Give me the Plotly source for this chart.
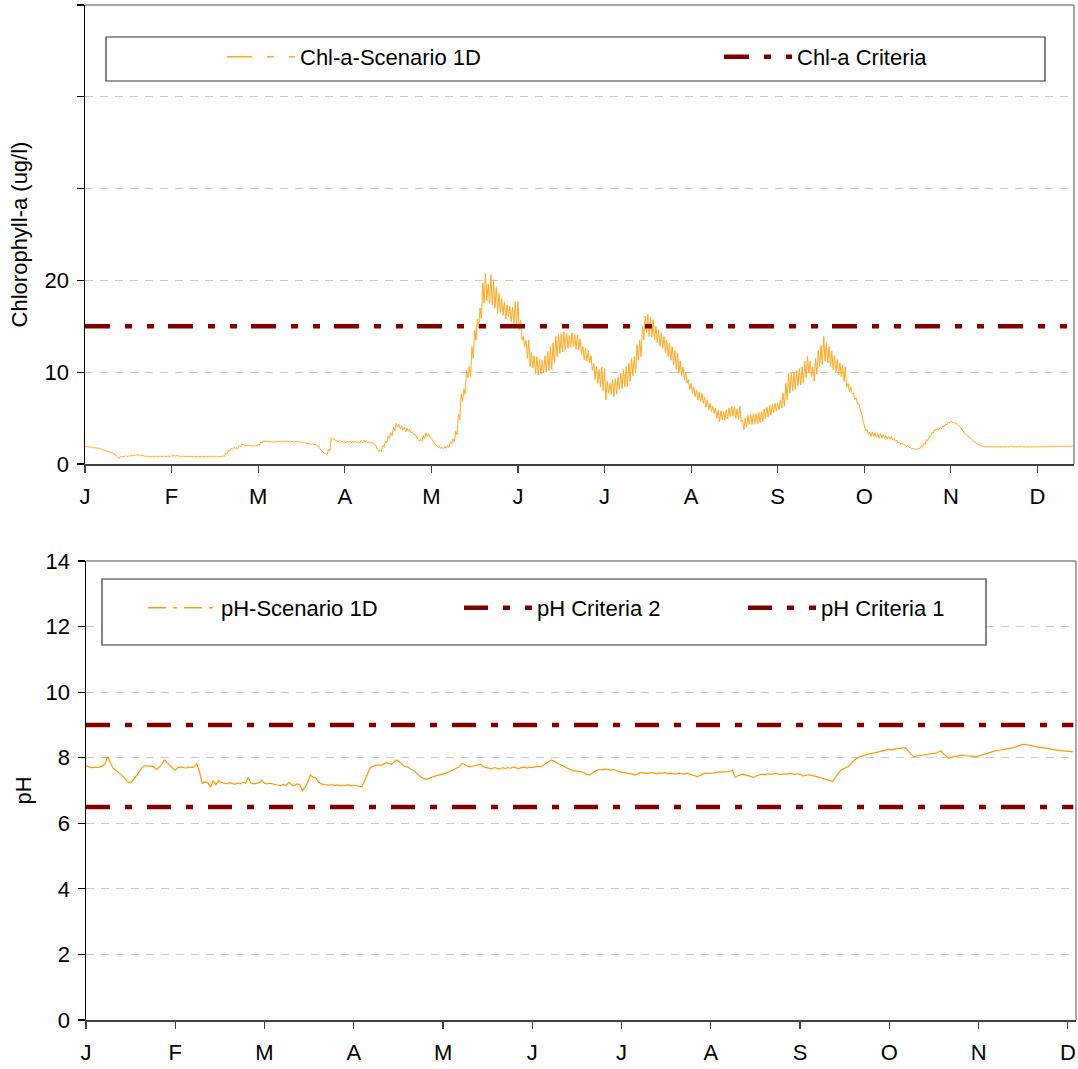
import plotly.graph_objects as go

W, H = 1078, 1069

# ---------------- data ----------------
months = ["J", "F", "M", "A", "M", "J", "J", "A", "S", "O", "N", "D"]
top_tick_days = [0, 32, 64, 96, 128, 160, 192, 224, 256, 288, 320, 352]
bottom_tick_days = [0, 33, 66, 99, 132, 165, 198, 231, 264, 297, 330, 363]

# Chlorophyll-a, daily high / low of the sub-daily oscillation (ug/l), day 0 = 1 Jan
chl_high = [
    1.95, 1.90, 1.88, 1.85, 1.80, 1.72, 1.65, 1.55, 1.45, 1.35,
    1.25, 1.10, 0.75, 0.85, 0.85, 0.90, 0.90, 0.95, 1.00, 1.05,
    1.00, 0.95, 0.90, 0.88, 0.86, 0.86, 0.86, 0.86, 0.86, 0.86,
    0.86, 0.88, 0.92, 0.95, 0.95, 0.90, 0.86, 0.86, 0.86, 0.86,
    0.86, 0.86, 0.86, 0.86, 0.86, 0.86, 0.86, 0.86, 0.86, 0.86,
    0.86, 0.90, 1.20, 1.50, 1.70, 1.80, 1.75, 2.00, 2.20, 2.05,
    2.10, 2.05, 2.00, 2.05, 2.15, 2.40, 2.55, 2.50, 2.50, 2.45,
    2.50, 2.50, 2.45, 2.50, 2.55, 2.50, 2.50, 2.45, 2.50, 2.45,
    2.40, 2.35, 2.30, 2.25, 2.20, 2.15, 2.00, 1.60, 1.25, 1.15,
    1.60, 2.85, 2.75, 2.60, 2.55, 2.50, 2.45, 2.50, 2.45, 2.50,
    2.50, 2.45, 2.55, 2.60, 2.50, 2.45, 2.40, 2.20, 1.60, 1.50,
    2.00, 2.50, 3.00, 3.40, 4.00, 4.45, 4.30, 4.15, 4.00, 3.90,
    3.80, 3.50, 3.20, 2.75, 2.70, 3.10, 3.40, 3.30, 2.80, 2.30,
    2.00, 1.90, 1.80, 1.90, 2.00, 2.40, 2.70, 3.60, 5.40, 7.60,
    8.20, 10.2, 10.6, 12.8, 14.6, 15.8, 17.0, 19.7, 20.8, 19.6,
    20.6, 20.0, 19.3, 18.6, 18.0, 17.6, 17.3, 17.2, 17.1, 17.7,
    17.7, 15.7, 13.9, 13.5, 13.5, 12.2, 11.8, 11.7, 11.4, 11.3,
    11.8, 12.3, 12.8, 13.2, 13.9, 14.1, 14.2, 14.4, 14.2, 14.0,
    14.3, 14.1, 14.1, 13.6, 12.8, 12.6, 12.4, 11.8, 11.0, 10.6,
    10.3, 10.6, 10.4, 9.0, 8.8, 9.2, 9.3, 9.5, 9.9, 10.3,
    10.6, 11.0, 11.5, 11.7, 13.0, 13.5, 15.0, 16.1, 16.3, 16.0,
    15.7, 15.0, 14.6, 14.3, 13.9, 13.5, 13.2, 12.8, 12.4, 12.1,
    11.2, 10.6, 10.0, 9.2, 8.8, 8.4, 8.0, 7.8, 7.7, 7.3,
    7.0, 6.6, 6.3, 6.1, 5.9, 5.8, 5.7, 5.9, 6.1, 6.3,
    6.2, 6.0, 6.3, 4.8, 5.0, 5.3, 5.4, 5.5, 5.5, 5.6,
    5.7, 6.0, 6.2, 6.4, 6.5, 6.6, 6.6, 7.0, 7.7, 8.8,
    9.9, 9.9, 9.9, 10.2, 10.4, 10.6, 11.2, 11.7, 11.2, 10.6,
    11.5, 12.4, 12.9, 13.9, 13.2, 12.8, 12.3, 11.8, 11.4, 11.0,
    10.8, 10.6, 8.8, 8.4, 7.7, 7.2, 6.6, 5.5, 4.2, 3.8,
    3.5, 3.5, 3.4, 3.3, 3.3, 3.2, 3.1, 3.0, 3.0, 2.8,
    2.6, 2.4, 2.3, 2.1, 2.0, 1.8, 1.7, 1.65, 1.75, 1.95,
    2.25, 2.65, 3.05, 3.45, 3.75, 3.85, 3.95, 4.15, 4.35, 4.55,
    4.65, 4.55, 4.45, 4.15, 3.75, 3.35, 3.05, 2.85, 2.55, 2.35,
    2.15, 2.05, 1.95, 1.92, 1.90, 1.90, 1.90, 1.92, 1.90, 1.90,
    1.90, 1.92, 1.95, 1.92, 1.90, 1.92, 1.95, 1.92, 1.90, 1.90,
    1.90, 1.92, 1.90, 1.90, 1.92, 1.94, 1.95, 1.96, 1.96, 1.95,
    1.96, 1.97, 1.96, 1.97, 1.97, 1.98,
]
chl_low = [
    1.85, 1.82, 1.80, 1.75, 1.70, 1.62, 1.55, 1.45, 1.35, 1.25,
    1.15, 0.95, 0.60, 0.75, 0.78, 0.80, 0.82, 0.85, 0.90, 0.95,
    0.92, 0.88, 0.82, 0.80, 0.78, 0.78, 0.78, 0.78, 0.78, 0.78,
    0.78, 0.80, 0.85, 0.87, 0.85, 0.80, 0.78, 0.78, 0.78, 0.78,
    0.78, 0.78, 0.78, 0.78, 0.78, 0.78, 0.78, 0.78, 0.78, 0.78,
    0.78, 0.82, 1.10, 1.40, 1.60, 1.70, 1.65, 1.85, 2.05, 1.95,
    2.00, 1.95, 1.90, 1.95, 2.05, 2.30, 2.45, 2.40, 2.40, 2.35,
    2.40, 2.40, 2.35, 2.40, 2.45, 2.40, 2.40, 2.35, 2.40, 2.35,
    2.30, 2.25, 2.20, 2.15, 2.10, 2.05, 1.85, 1.45, 1.10, 1.05,
    1.40, 2.70, 2.55, 2.40, 2.35, 2.30, 2.30, 2.35, 2.30, 2.30,
    2.30, 2.25, 2.35, 2.40, 2.30, 2.25, 2.20, 2.00, 1.40, 1.35,
    1.80, 2.30, 2.80, 3.10, 3.60, 4.00, 3.80, 3.70, 3.50, 3.55,
    3.40, 3.20, 3.00, 2.50, 2.50, 2.80, 3.00, 2.90, 2.50, 2.10,
    1.80, 1.70, 1.65, 1.70, 1.80, 2.20, 2.40, 3.20, 4.80, 6.80,
    7.6, 9.4, 9.5, 11.5, 13.5, 14.8, 15.8, 17.5, 17.8, 17.5,
    17.3, 17.0, 16.4, 16.5, 16.2, 15.8, 16.0, 15.5, 15.3, 14.8,
    14.6, 13.5, 12.8, 11.5, 10.6, 10.5, 9.8, 9.7, 9.8, 9.9,
    10.0, 10.2, 10.3, 11.0, 11.7, 12.0, 12.2, 12.4, 12.6, 12.7,
    12.8, 12.5, 12.4, 12.0, 11.3, 11.2, 11.0, 10.2, 9.2, 8.8,
    8.4, 8.0, 7.0, 7.7, 7.6, 7.3, 7.6, 8.1, 8.2, 8.4,
    8.4, 9.0, 9.6, 9.9, 11.3, 11.7, 13.5, 14.3, 13.9, 13.8,
    13.5, 13.2, 12.8, 12.6, 12.1, 11.7, 11.3, 10.8, 10.3, 9.9,
    9.6, 9.2, 8.8, 8.1, 7.7, 7.3, 7.0, 6.8, 6.6, 6.2,
    5.9, 5.7, 5.5, 5.0, 4.6, 4.8, 4.8, 4.9, 5.1, 5.2,
    5.0, 4.8, 4.6, 3.7, 4.0, 4.3, 4.3, 4.4, 4.4, 4.5,
    4.6, 4.9, 5.1, 5.3, 5.6, 5.8, 5.9, 6.1, 6.3, 7.0,
    7.7, 8.0, 8.1, 8.5, 8.6, 8.8, 9.4, 9.9, 9.5, 9.0,
    9.8, 10.6, 10.8, 11.2, 11.0, 10.6, 10.3, 10.0, 9.7, 9.5,
    9.0, 8.4, 7.9, 7.7, 7.0, 6.5, 5.9, 4.8, 3.6, 3.2,
    3.0, 3.0, 2.9, 2.8, 2.8, 2.8, 2.7, 2.7, 2.6, 2.5,
    2.3, 2.1, 2.1, 1.9, 1.8, 1.7, 1.6, 1.55, 1.65, 1.85,
    2.15, 2.55, 2.95, 3.35, 3.65, 3.75, 3.85, 4.05, 4.25, 4.45,
    4.55, 4.45, 4.35, 4.05, 3.65, 3.25, 2.95, 2.75, 2.45, 2.25,
    2.05, 1.95, 1.85, 1.84, 1.83, 1.83, 1.83, 1.84, 1.83, 1.83,
    1.83, 1.84, 1.86, 1.84, 1.83, 1.84, 1.86, 1.84, 1.83, 1.83,
    1.83, 1.84, 1.83, 1.83, 1.84, 1.86, 1.87, 1.88, 1.88, 1.87,
    1.88, 1.89, 1.88, 1.89, 1.89, 1.90,
]
chl_criteria = 15.0

# pH, daily values, day 0 = 1 Jan
ph_values = [
    7.77, 7.72, 7.70, 7.70, 7.69, 7.71, 7.75, 7.80, 8.03, 7.85,
    7.68, 7.62, 7.55, 7.48, 7.40, 7.30, 7.24, 7.27, 7.38, 7.47,
    7.60, 7.72, 7.76, 7.74, 7.75, 7.72, 7.64, 7.70, 7.80, 7.93,
    7.85, 7.75, 7.68, 7.62, 7.70, 7.72, 7.70, 7.68, 7.72, 7.70,
    7.72, 7.82, 7.55, 7.22, 7.26, 7.24, 7.10, 7.30, 7.18, 7.30,
    7.25, 7.22, 7.20, 7.24, 7.21, 7.19, 7.23, 7.20, 7.25, 7.22,
    7.40, 7.22, 7.20, 7.22, 7.24, 7.32, 7.22, 7.20, 7.22, 7.20,
    7.17, 7.16, 7.15, 7.18, 7.16, 7.25, 7.18, 7.15, 7.20, 7.18,
    6.99, 7.10, 7.25, 7.47, 7.40, 7.38, 7.25, 7.20, 7.18, 7.16,
    7.16, 7.18, 7.15, 7.17, 7.14, 7.16, 7.15, 7.18, 7.14, 7.16,
    7.15, 7.13, 7.11, 7.30, 7.50, 7.68, 7.74, 7.77, 7.78, 7.76,
    7.80, 7.85, 7.82, 7.80, 7.88, 7.93, 7.86, 7.78, 7.72, 7.72,
    7.65, 7.62, 7.55, 7.45, 7.40, 7.36, 7.34, 7.38, 7.42, 7.44,
    7.46, 7.47, 7.50, 7.52, 7.56, 7.60, 7.62, 7.66, 7.72, 7.83,
    7.80, 7.74, 7.72, 7.74, 7.76, 7.78, 7.80, 7.72, 7.70, 7.68,
    7.66, 7.70, 7.68, 7.65, 7.70, 7.67, 7.70, 7.68, 7.72, 7.70,
    7.66, 7.70, 7.72, 7.68, 7.71, 7.70, 7.72, 7.74, 7.72, 7.76,
    7.82, 7.88, 7.93, 7.90, 7.84, 7.80, 7.76, 7.72, 7.68, 7.64,
    7.60, 7.60, 7.58, 7.58, 7.55, 7.50, 7.47, 7.52, 7.58, 7.62,
    7.64, 7.63, 7.65, 7.64, 7.62, 7.64, 7.60, 7.58, 7.56, 7.55,
    7.54, 7.52, 7.50, 7.47, 7.52, 7.55, 7.53, 7.54, 7.52, 7.55,
    7.53, 7.51, 7.54, 7.52, 7.55, 7.50, 7.53, 7.52, 7.50, 7.53,
    7.52, 7.50, 7.53, 7.51, 7.48, 7.45, 7.42, 7.47, 7.50, 7.52,
    7.52, 7.51, 7.53, 7.55, 7.57, 7.56, 7.57, 7.56, 7.58, 7.62,
    7.40, 7.45, 7.47, 7.50, 7.47, 7.45, 7.44, 7.40, 7.45, 7.47,
    7.50, 7.48, 7.51, 7.49, 7.50, 7.52, 7.50, 7.49, 7.51, 7.50,
    7.52, 7.50, 7.49, 7.51, 7.50, 7.44, 7.46, 7.48, 7.47, 7.44,
    7.42, 7.40, 7.38, 7.36, 7.34, 7.30, 7.27, 7.40, 7.52, 7.62,
    7.66, 7.70, 7.74, 7.82, 7.93, 7.98, 8.03, 8.05, 8.08, 8.10,
    8.13, 8.14, 8.17, 8.18, 8.20, 8.23, 8.24, 8.25, 8.24, 8.26,
    8.28, 8.29, 8.30, 8.31, 8.20, 8.10, 8.03, 8.05, 8.07, 8.08,
    8.09, 8.10, 8.12, 8.13, 8.13, 8.18, 8.21, 8.12, 8.04, 7.98,
    8.02, 8.04, 8.05, 8.07, 8.08, 8.06, 8.05, 8.04, 8.05, 8.04,
    8.05, 8.08, 8.10, 8.13, 8.17, 8.20, 8.21, 8.22, 8.23, 8.24,
    8.25, 8.27, 8.29, 8.31, 8.34, 8.38, 8.40, 8.41, 8.40, 8.38,
    8.36, 8.34, 8.33, 8.31, 8.30, 8.28, 8.28, 8.26, 8.24, 8.23,
    8.22, 8.22, 8.21, 8.20, 8.19, 8.18,
]
ph_criteria_2 = 9.0
ph_criteria_1 = 6.5

# ---------------- build series ----------------
chl_x, chl_y = [], []
for d, (hi, lo) in enumerate(zip(chl_high, chl_low)):
    chl_x += [d, d + 0.5]
    chl_y += [hi, lo]
ph_days = list(range(len(ph_values)))

FONT = "Liberation Sans, Arial, sans-serif"
ORANGE = "#FFA820"
PH_ORANGE = "#FF9900"
DARKRED = "#800000"
CHL_DASH = "25px,15px,7px,15px,7px,14px"
PH_CRIT_DASH = "24px,15px,7px,15px"

fig = go.Figure()

# top chart
fig.add_trace(go.Scatter(x=chl_x, y=chl_y, mode="lines", xaxis="x", yaxis="y",
                         line=dict(color=ORANGE, width=1), showlegend=False,
                         name="Chl-a-Scenario 1D"))
fig.add_trace(go.Scatter(x=[None], y=[None], mode="lines", xaxis="x", yaxis="y",
                         name="Chl-a-Scenario 1D", legend="legend",
                         line=dict(color=ORANGE, width=1.5, dash=CHL_DASH)))
fig.add_trace(go.Scatter(x=chl_x, y=[chl_criteria] * len(chl_x), mode="lines",
                         xaxis="x", yaxis="y", name="Chl-a Criteria", legend="legend2",
                         line=dict(color=DARKRED, width=4.5, dash=CHL_DASH)))

# bottom chart
fig.add_trace(go.Scatter(x=ph_days, y=ph_values, mode="lines", xaxis="x2", yaxis="y2",
                         line=dict(color=PH_ORANGE, width=1.2), showlegend=False,
                         name="pH-Scenario 1D"))
fig.add_trace(go.Scatter(x=[None], y=[None], mode="lines", xaxis="x2", yaxis="y2",
                         name="pH-Scenario 1D", legend="legend3",
                         line=dict(color=PH_ORANGE, width=1.5, dash="18px,7px,4px,7px")))
fig.add_trace(go.Scatter(x=ph_days, y=[ph_criteria_2] * len(ph_days), mode="lines",
                         xaxis="x2", yaxis="y2", name="pH Criteria 2", legend="legend4",
                         line=dict(color=DARKRED, width=4.5, dash=PH_CRIT_DASH)))
fig.add_trace(go.Scatter(x=ph_days, y=[ph_criteria_1] * len(ph_days), mode="lines",
                         xaxis="x2", yaxis="y2", name="pH Criteria 1", legend="legend5",
                         line=dict(color=DARKRED, width=4.5, dash=PH_CRIT_DASH)))

tickfont = dict(family=FONT, size=22, color="black")


def xax(domain, rng, tickvals, yanchor):
    return dict(domain=domain, range=rng, anchor=yanchor, tickmode="array",
                tickvals=tickvals, ticktext=months, ticks="outside", ticklen=7,
                tickwidth=1.2, tickcolor="#404040", showline=True, linecolor="#404040",
                linewidth=1.5, showgrid=False, zeroline=False, tickfont=tickfont,
                ticklabelstandoff=5, fixedrange=True, automargin=False)


def yax(domain, rng, tickvals, ticktext, xanchor, title, standoff):
    return dict(domain=domain, range=rng, anchor=xanchor, tickmode="array",
                tickvals=tickvals, ticktext=ticktext, ticks="outside", ticklen=7,
                tickwidth=1.2, tickcolor="black", showline=True, linecolor="black",
                linewidth=1.5, showgrid=True, gridcolor="#c8c8c8", gridwidth=1,
                griddash="8px,7px", zeroline=False, tickfont=tickfont,
                ticklabelstandoff=3, fixedrange=True, automargin=False,
                title=dict(text=title, font=tickfont, standoff=standoff))


# target-pixel -> paper coordinate helpers
def px(x):
    return x / W


def py(y):
    return 1 - y / H


fig.update_layout(
    width=W, height=H, autosize=False,
    margin=dict(l=0, r=0, t=0, b=0, pad=0, autoexpand=False),
    paper_bgcolor="white", plot_bgcolor="white",
    font=dict(family=FONT, size=22, color="black"),
    xaxis=xax([px(85), px(1074)], [0, 365.5], top_tick_days, "y"),
    yaxis=yax([py(464), py(5)], [0, 50], [0, 10, 20, 30, 40, 50],
              ["0", "10", "20", "", "", ""], "x", "Chlorophyll-a (ug/l)", 11),
    xaxis2=xax([px(86), px(1076)], [0, 366], bottom_tick_days, "y2"),
    yaxis2=yax([py(1020), py(561)], [0, 14], [0, 2, 4, 6, 8, 10, 12, 14],
               ["0", "2", "4", "6", "8", "10", "12", "14"], "x2", "pH", 8),
    shapes=[
        # plot-area borders (grey top / right)
        dict(type="line", xref="paper", yref="paper", x0=px(85), x1=px(1074), y0=py(5), y1=py(5),
             line=dict(color="#8a8a8a", width=1.5)),
        dict(type="line", xref="paper", yref="paper", x0=px(1074), x1=px(1074), y0=py(5), y1=py(464),
             line=dict(color="#8a8a8a", width=1.5)),
        dict(type="line", xref="paper", yref="paper", x0=px(86), x1=px(1076), y0=py(561), y1=py(561),
             line=dict(color="#8a8a8a", width=1.5)),
        dict(type="line", xref="paper", yref="paper", x0=px(1076), x1=px(1076), y0=py(561), y1=py(1020),
             line=dict(color="#8a8a8a", width=1.5)),
        # legend boxes
        dict(type="rect", xref="paper", yref="paper", x0=px(106), x1=px(1045), y0=py(81), y1=py(37),
             line=dict(color="#333333", width=1.2), fillcolor="white", layer="above"),
        dict(type="rect", xref="paper", yref="paper", x0=px(102), x1=px(986), y0=py(645), y1=py(579),
             line=dict(color="#333333", width=1.2), fillcolor="white", layer="above"),
    ],
)

leg_common = dict(orientation="h", xanchor="left", yanchor="middle", bgcolor="rgba(0,0,0,0)",
                  borderwidth=0, itemwidth=68, font=dict(family=FONT, size=22, color="black"))
fig.update_layout(
    legend=dict(x=px(222), y=py(57), **leg_common),
    legend2=dict(x=px(719), y=py(57), **leg_common),
    legend3=dict(x=px(143), y=py(608), **leg_common),
    legend4=dict(x=px(459), y=py(608), **leg_common),
    legend5=dict(x=px(743), y=py(608), **leg_common),
)

# the browser's default 8px body margin would shift the figure; remove it
fig.write_html("out.html", config={"displayModeBar": False, "staticPlot": True},
               post_script="document.body.style.margin='0';document.body.style.overflow='hidden';")
